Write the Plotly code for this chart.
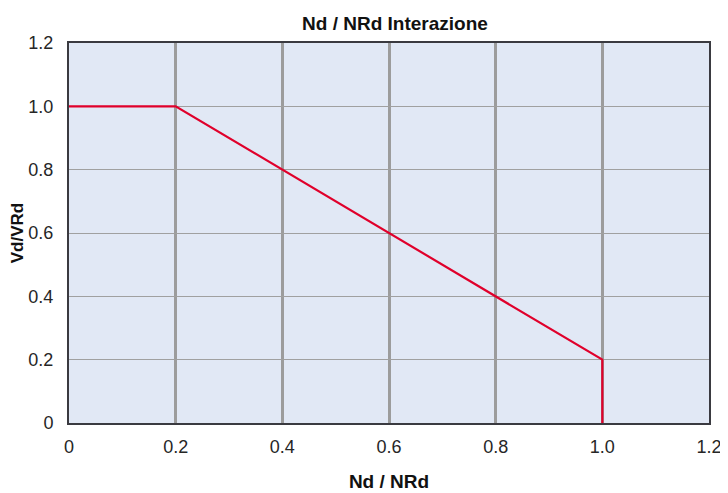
import plotly.graph_objects as go

x_vals = [0, 0.2, 1.0, 1.0]
y_vals = [1.0, 1.0, 0.2, 0.0]
x_ticks = [0, 0.2, 0.4, 0.6, 0.8, 1.0, 1.2]
x_tick_labels = ["0", "0.2", "0.4", "0.6", "0.8", "1.0", "1.2"]
y_ticks = [0, 0.2, 0.4, 0.6, 0.8, 1.0, 1.2]
y_tick_labels = ["0", "0.2", "0.4", "0.6", "0.8", "1.0", "1.2"]

fig = go.Figure()
fig.add_trace(go.Scatter(x=x_vals, y=y_vals, mode="lines",
                         line=dict(color="#e0002b", width=2.2),
                         showlegend=False, hoverinfo="skip"))

# page body has ~8px default margin, so figure is shrunk by 8px on each axis
W, H = 720, 485
font_family = "Liberation Sans, Arial, sans-serif"
fig.update_layout(
    width=W, height=H,
    margin=dict(l=61, r=19, t=35, b=70, autoexpand=False),
    paper_bgcolor="white",
    plot_bgcolor="#e1e8f5",
    title=dict(text="<b>Nd / NRd Interazione</b>", x=(395 - 8) / W, xanchor="center",
               xref="container", yref="container",
               y=1 - 15 / H, yanchor="middle",
               font=dict(family=font_family, size=19, color="#111")),
    font=dict(family=font_family, size=16, color="#333"),
)
fig.update_xaxes(range=[0, 1.2], tickvals=x_ticks, ticktext=x_tick_labels,
                 showgrid=True, gridcolor="#9c9c9c", gridwidth=2.5,
                 showline=True, linecolor="#3a3a40", linewidth=2, mirror=True,
                 zeroline=False, ticks="", ticklabelstandoff=6, automargin=False,
                 title=dict(text="<b>Nd / NRd</b>", standoff=19,
                            font=dict(family=font_family, size=19, color="#111")),
                 tickfont=dict(size=18, color="#262626"))
fig.update_yaxes(range=[0, 1.2], tickvals=y_ticks, ticktext=y_tick_labels,
                 showgrid=True, gridcolor="#a0a0a0", gridwidth=1.2,
                 showline=True, linecolor="#3a3a40", linewidth=2, mirror=True,
                 zeroline=False, ticks="", ticklabelstandoff=10, automargin=False,
                 title=dict(text="<b>Vd/VRd</b>", standoff=5,
                            font=dict(family=font_family, size=17, color="#111")),
                 tickfont=dict(size=18, color="#262626"))

fig.write_html("out.html")
